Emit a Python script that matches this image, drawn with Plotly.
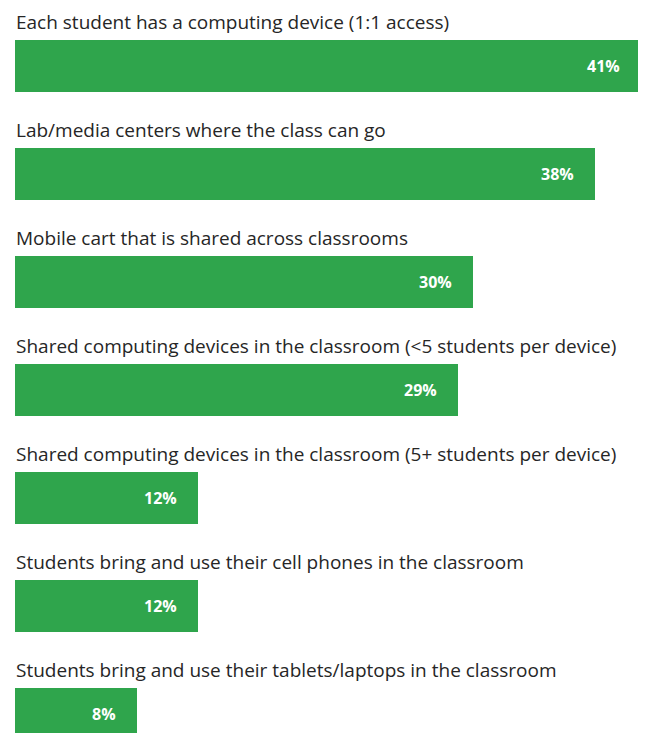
import plotly.graph_objects as go

categories = [
    "Each student has a computing device (1:1 access)",
    "Lab/media centers where the class can go",
    "Mobile cart that is shared across classrooms",
    "Shared computing devices in the classroom (<5 students per device)",
    "Shared computing devices in the classroom (5+ students per device)",
    "Students bring and use their cell phones in the classroom",
    "Students bring and use their tablets/laptops in the classroom",
]
values = [41, 38, 30, 29, 12, 12, 8]
value_labels = ["41%", "38%", "30%", "29%", "12%", "12%", "8%"]

BAR_COLOR = "#2FA54C"
LABEL_FONT = "'Open Sans', sans-serif"

fig = go.Figure()
fig.add_trace(go.Bar(
    orientation="h",
    y=categories,
    x=values,
    marker=dict(color=BAR_COLOR, line=dict(width=0)),
    width=0.4815,
    hoverinfo="skip",
))

annotations = []
for cat, val, lab in zip(categories, values, value_labels):
    annotations.append(dict(
        x=0, y=cat, xref="x", yref="y", text=cat, showarrow=False,
        xanchor="left", yanchor="middle", yshift=44, xshift=-1,
        font=dict(family=LABEL_FONT, size=19, color="#262626"),
    ))
    annotations.append(dict(
        x=val, y=cat, xref="x", yref="y", text="<b>" + lab + "</b>", showarrow=False,
        xanchor="right", yanchor="middle", xshift=-19,
        font=dict(family=LABEL_FONT, size=16, color="#ffffff"),
    ))

fig.update_layout(
    width=646, height=733,
    margin=dict(l=7, r=13, t=0, b=0),
    paper_bgcolor="white", plot_bgcolor="white",
    showlegend=False,
    bargap=0,
    xaxis=dict(range=[0, 41], visible=False, fixedrange=True),
    yaxis=dict(
        categoryorder="array", categoryarray=categories,
        range=[6.250, -0.537], visible=False, fixedrange=True,
    ),
    annotations=annotations,
)

fig.write_html("out.html", config={"displayModeBar": False})
